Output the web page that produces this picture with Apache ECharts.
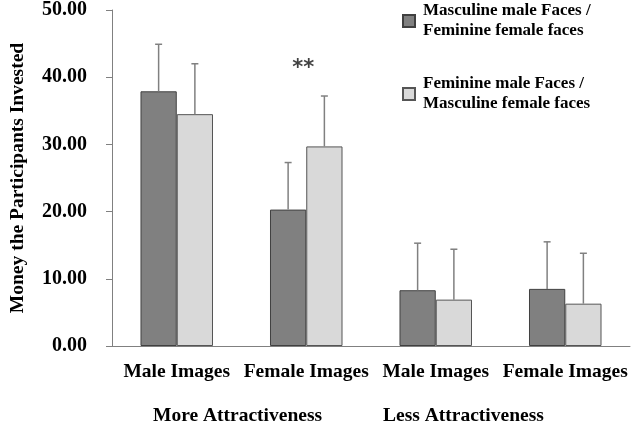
<!DOCTYPE html>
<html>
<head>
<meta charset="utf-8">
<script src="https://cdn.jsdelivr.net/npm/echarts@6/dist/echarts.min.js"></script>
<style>
  html, body { margin: 0; padding: 0; background: #fff; }
  #chart { width: 633px; height: 425px; }
</style>
</head>
<body>
<div id="chart"></div>
<script>
const categories = ['Male Images', 'Female Images', 'Male Images', 'Female Images']
const groupLabels = ['More Attractiveness', 'Less Attractiveness']
const seriesNames = ['Masculine male Faces /\nFeminine female faces', 'Feminine male Faces /\nMasculine female faces']
const typicalMeans = [37.9, 20.3, 8.3, 8.5]
const typicalErr = [7.0, 7.0, 7.0, 7.0]
const atypicalMeans = [34.5, 29.7, 6.9, 6.3]
const atypicalErr = [7.5, 7.5, 7.5, 7.5]
const yTicks = [0, 10, 20, 30, 40, 50]
const starLabel = '**'
const starAt = [1, 41.6]

const font = 'Liberation Serif'
const chart = echarts.init(document.getElementById('chart'))

// error bars drawn upward only, offset to each bar centre
function errorSeries(means, errs, side) {
  return {
    type: 'custom',
    silent: true,
    z: 5,
    data: means.map((m, i) => [i, m, m + errs[i]]),
    renderItem(params, api) {
      const band = api.size([1, 0])[0]
      const off = side * band * 0.14
      const p0 = api.coord([api.value(0), api.value(1)])
      const p1 = api.coord([api.value(0), api.value(2)])
      const x = p0[0] + off
      const style = { stroke: '#808080', lineWidth: 1.5 }
      return {
        type: 'group',
        children: [
          { type: 'line', shape: { x1: x, y1: p0[1], x2: x, y2: p1[1] }, style },
          { type: 'line', shape: { x1: x - 3.5, y1: p1[1], x2: x + 3.5, y2: p1[1] }, style }
        ]
      }
    }
  }
}

chart.setOption({
  animation: false,
  textStyle: { fontFamily: font },
  grid: { left: 107, right: 3, top: 10, bottom: 79 },
  legend: {
    orient: 'vertical',
    left: 397,
    top: 0,
    padding: [1, 5, 5, 5],
    itemGap: 33,
    itemWidth: 12,
    itemHeight: 12,
    icon: 'rect',
    textStyle: { fontFamily: font, fontWeight: 'bold', fontSize: 17, lineHeight: 20, color: '#000', padding: [0, 0, 0, 3] },
    data: seriesNames
  },
  xAxis: {
    type: 'category',
    data: categories,
    axisLine: { lineStyle: { color: '#808080' } },
    axisTick: { length: 5, lineStyle: { color: '#808080' } },
    axisLabel: { margin: 16, fontFamily: font, fontWeight: 'bold', fontSize: 19.5, color: '#000', interval: 0 }
  },
  yAxis: {
    type: 'value',
    min: yTicks[0],
    max: yTicks[yTicks.length - 1],
    interval: 10,
    name: 'Money the Participants Invested',
    nameLocation: 'middle',
    nameGap: 84,
    nameTextStyle: { fontFamily: font, fontWeight: 'bold', fontSize: 19.5, color: '#000' },
    splitLine: { show: false },
    axisLine: { show: true, lineStyle: { color: '#808080' } },
    axisTick: { show: true, length: 6, lineStyle: { color: '#808080' } },
    axisLabel: { margin: 25, fontFamily: font, fontWeight: 'bold', fontSize: 20, color: '#000',
      formatter: v => v.toFixed(2) }
  },
  series: [
    {
      name: seriesNames[0],
      type: 'bar',
      data: typicalMeans,
      barWidth: '28%',
      barGap: '0%',
      itemStyle: { color: '#808080', borderColor: '#404040', borderWidth: 1 }
    },
    {
      name: seriesNames[1],
      type: 'bar',
      data: atypicalMeans,
      barWidth: '28%',
      itemStyle: { color: '#d9d9d9', borderColor: '#555555', borderWidth: 1 }
    },
    errorSeries(typicalMeans, typicalErr, -1),
    errorSeries(atypicalMeans, atypicalErr, 1),
    {
      type: 'scatter',
      symbolSize: 0,
      silent: true,
      data: [starAt],
      label: { show: true, position: 'inside', formatter: starLabel, offset: [-3, 2],
        fontFamily: 'DejaVu Sans', fontWeight: 'bold', fontSize: 21, color: '#111' }
    }
  ],
  graphic: groupLabels.map((t, i) => ({
    type: 'text',
    left: i === 0 ? 153 : 383,
    top: 406,
    style: { text: t, font: 'bold 19.5px "Liberation Serif"', fill: '#000' }
  }))
})
</script>
</body>
</html>
